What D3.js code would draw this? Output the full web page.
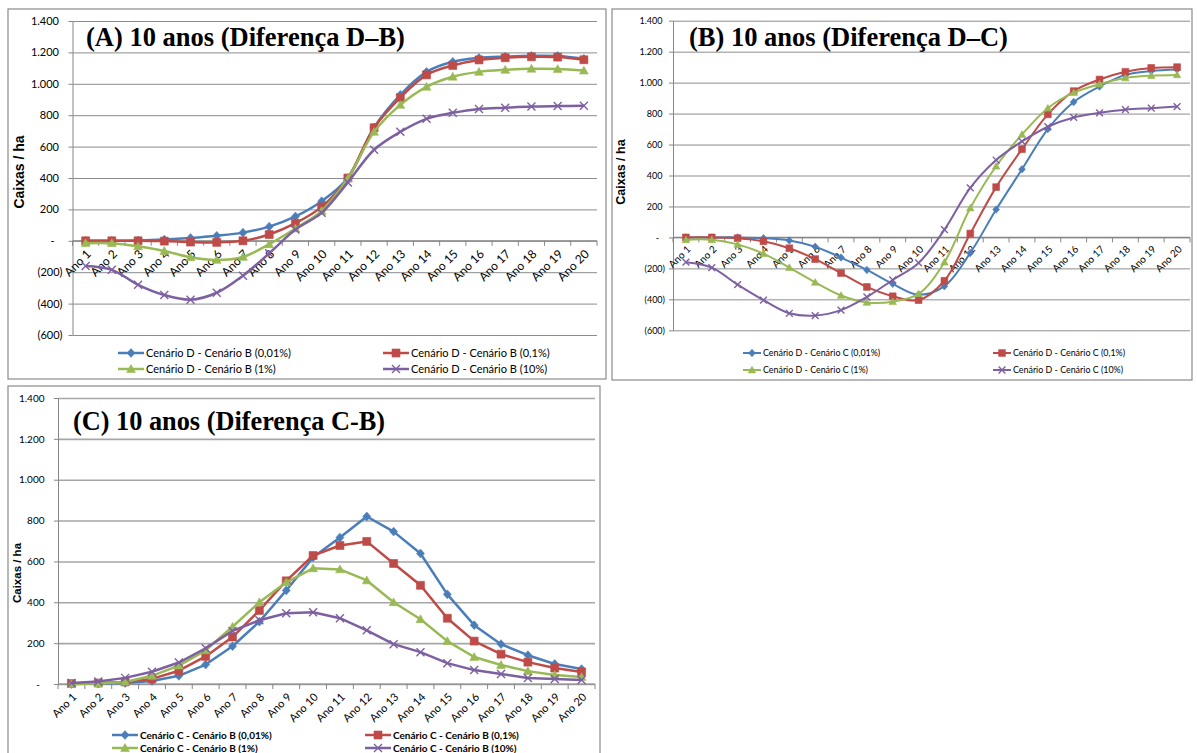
<!DOCTYPE html>
<html lang="pt">

<head>
    <meta charset="UTF-8">
    <title>Caixas / ha - 10 anos (diferenças entre cenários)</title>
    <script src="https://cdnjs.cloudflare.com/ajax/libs/d3/7.8.5/d3.min.js"></script>
    <style>
        body {
            margin: 0;
            background: #fff;
        }
    </style>
</head>

<body>
    <svg id="chart" width="1197" height="753"></svg>
</body>
<script>
    const categories = ["Ano 1", "Ano 2", "Ano 3", "Ano 4", "Ano 5", "Ano 6", "Ano 7", "Ano 8", "Ano 9", "Ano 10",
        "Ano 11", "Ano 12", "Ano 13", "Ano 14", "Ano 15", "Ano 16", "Ano 17", "Ano 18", "Ano 19", "Ano 20"];

    // (A) Diferença D-B
    const dbP001 = [0, 0, 2, 8, 18, 32, 52, 90, 155, 252, 400, 722, 930, 1076, 1140, 1165, 1173, 1178, 1177, 1159];
    const dbP01 = [0, 0, 0, -2, -8, -10, 0, 40, 112, 216, 400, 720, 912, 1057, 1117, 1152, 1166, 1172, 1170, 1153];
    const dbP1 = [-15, -15, -35, -65, -105, -122, -103, -22, 78, 190, 398, 694, 866, 981, 1045, 1076, 1089, 1096, 1094, 1084];
    const dbP10 = [-160, -185, -280, -345, -375, -331, -222, -80, 72, 178, 372, 580, 694, 777, 815, 840, 848, 855, 858, 860];

    // (B) Diferença D-C
    const dcP001 = [0, 0, 0, -5, -20, -60, -130, -210, -300, -370, -315, -100, 180, 440, 700, 875, 975, 1050, 1075, 1085];
    const dcP01 = [0, 0, -5, -25, -70, -140, -230, -320, -380, -405, -280, 25, 325, 570, 795, 945, 1020, 1070, 1095, 1100];
    const dcP1 = [-15, -15, -45, -105, -195, -290, -375, -420, -415, -365, -160, 190, 460, 665, 835, 935, 990, 1030, 1045, 1050];
    const dcP10 = [-160, -195, -305, -405, -490, -505, -470, -385, -275, -165, 50, 320, 500, 620, 715, 775, 805, 825, 835, 845];

    // (C) Diferença C-B
    const cbP001 = [0, 2, 5, 15, 40, 95, 185, 305, 458, 620, 717, 820, 746, 639, 439, 288, 195, 141, 98, 73];
    const cbP01 = [2, 5, 10, 25, 65, 135, 230, 360, 505, 629, 678, 698, 590, 483, 322, 210, 146, 107, 78, 59];
    const cbP1 = [0, 2, 10, 40, 90, 165, 280, 400, 498, 566, 561, 507, 400, 317, 210, 132, 93, 63, 44, 34];
    const cbP10 = [5, 12, 30, 60, 105, 175, 260, 312, 346, 351, 322, 263, 195, 156, 102, 68, 49, 29, 24, 20];

    const legendA = ["Cenário D - Cenário B (0,01%)", "Cenário D - Cenário B (0,1%)", "Cenário D - Cenário B (1%)", "Cenário D - Cenário B (10%)"];
    const legendB = ["Cenário D - Cenário C (0,01%)", "Cenário D - Cenário C (0,1%)", "Cenário D - Cenário C (1%)", "Cenário D - Cenário C (10%)"];
    const legendC = ["Cenário C - Cenário B (0,01%)", "Cenário C - Cenário B (0,1%)", "Cenário C - Cenário B (1%)", "Cenário C - Cenário B (10%)"];

    const titles = ["(A) 10 anos (Diferença D–B)", "(B) 10 anos (Diferença D–C)", "(C) 10 anos (Diferença C-B)"];
    const yTitle = "Caixas / ha";

    const ticksAB = [-600, -400, -200, 0, 200, 400, 600, 800, 1000, 1200, 1400];
    const tickLabelsAB = ["(600)", "(400)", "(200)", "-", "200", "400", "600", "800", "1.000", "1.200", "1.400"];
    const ticksC = [0, 200, 400, 600, 800, 1000, 1200, 1400];
    const tickLabelsC = ["-", "200", "400", "600", "800", "1.000", "1.200", "1.400"];

    const colors = ["#4a7ebb", "#be4b48", "#98b954", "#7d60a0"];
    const sansFont = "Lato, 'Open Sans', sans-serif";

    const svg = d3.select("#chart");

    // marker shapes: diamond, square, triangle, x
    function markerPath(i, r) {
        if (i === 0) return `M0,${-r * 1.1}L${r},0L0,${r * 1.1}L${-r},0Z`;
        if (i === 1) return `M${-r},${-r}H${r}V${r}H${-r}Z`;
        if (i === 2) return `M0,${-r * 1.1}L${r * 1.1},${r * 0.85}L${-r * 1.1},${r * 0.85}Z`;
        return `M${-r},${-r}L${r},${r}M${-r},${r}L${r},${-r}`;
    }

    function drawMarker(g, i, cx, cy, cfg) {
        const p = g.append("path")
            .attr("d", markerPath(i, cfg.markerR))
            .attr("transform", `translate(${cx},${cy})`);
        if (i === 3) {
            p.attr("fill", "none").attr("stroke", colors[i]).attr("stroke-width", 1.4);
        } else {
            p.attr("fill", colors[i]).attr("stroke", colors[i]).attr("stroke-width", 0.6);
        }
    }

    function drawPanel(cfg) {
        const g = svg.append("g");

        // chart frame
        g.append("rect")
            .attr("x", cfg.box[0]).attr("y", cfg.box[1])
            .attr("width", cfg.box[2]).attr("height", cfg.box[3])
            .attr("fill", "#fff").attr("stroke", "#8a8a8a").attr("stroke-width", 1.2);

        const x = d3.scaleBand().domain(categories).range([cfg.left, cfg.right]);
        const y = d3.scaleLinear().domain(cfg.domain).range([cfg.bottom, cfg.top]);
        const cx = c => x(c) + x.bandwidth() / 2;

        // gridlines
        g.append("g")
            .attr("transform", `translate(${cfg.left},0)`)
            .call(d3.axisLeft(y).tickValues(cfg.ticks).tickSize(-(cfg.right - cfg.left)).tickFormat(""))
            .call(a => a.select(".domain").remove())
            .call(a => a.selectAll("line").attr("stroke", cfg.gridColor).attr("stroke-width", cfg.gridW));

        // y axis
        const yAxis = g.append("g")
            .attr("transform", `translate(${cfg.left},0)`)
            .call(d3.axisLeft(y).tickValues(cfg.ticks).tickSize(4).tickSizeOuter(0)
                .tickFormat((d, i) => cfg.tickLabels[i]));
        yAxis.select(".domain").attr("stroke", "#868686");
        yAxis.selectAll("line").attr("stroke", "#868686");
        yAxis.selectAll("text")
            .attr("font-family", sansFont)
            .attr("font-size", cfg.yFont)
            .attr("fill", "#000")
            .attr("x", d => -cfg.yGap - (d > 0 ? cfg.posShift : d === 0 ? cfg.zeroShift : 0));

        // x axis line at zero, ticks on category boundaries
        const y0 = y(0);
        g.append("line")
            .attr("x1", cfg.left).attr("x2", cfg.right)
            .attr("y1", y0).attr("y2", y0)
            .attr("stroke", "#868686").attr("stroke-width", 1.2);
        g.selectAll(".xtick")
            .data(categories.map(c => x(c)).concat([cfg.right]))
            .enter().append("line")
            .attr("x1", d => d).attr("x2", d => d)
            .attr("y1", y0).attr("y2", y0 + 5)
            .attr("stroke", "#868686");
        g.selectAll(".xlabel")
            .data(categories)
            .enter().append("text")
            .attr("transform", c => `translate(${cx(c) + cfg.xLabDx},${y0 + cfg.xLabDy}) rotate(-45)`)
            .attr("text-anchor", "end")
            .attr("dy", "0.35em")
            .attr("font-family", sansFont)
            .attr("font-size", cfg.xFont)
            .attr("fill", "#000")
            .text(c => c);

        // series
        const line = d3.line()
            .x((d, i) => cx(categories[i]))
            .y(d => y(d))
            .curve(cfg.curve);

        cfg.series.forEach((s, si) => {
            g.append("path")
                .attr("d", line(s))
                .attr("fill", "none")
                .attr("stroke", colors[si])
                .attr("stroke-width", cfg.lineW)
                .attr("stroke-linejoin", "round");
            s.forEach((v, i) => drawMarker(g, si, cx(categories[i]), y(v), cfg));
        });

        // title
        g.append("text")
            .attr("x", cfg.titleX).attr("y", cfg.titleY)
            .attr("font-family", "'Liberation Serif', 'Times New Roman', serif")
            .attr("font-weight", "bold")
            .attr("font-size", cfg.titleSize)
            .attr("fill", "#000")
            .text(cfg.title);

        // y axis title
        g.append("text")
            .attr("transform", `translate(${cfg.yTitleX},${cfg.yTitleY}) rotate(-90)`)
            .attr("text-anchor", "middle")
            .attr("dy", "0.35em")
            .attr("font-family", "'Liberation Sans', Arial, sans-serif")
            .attr("font-weight", "bold")
            .attr("font-size", cfg.yTitleSize)
            .attr("fill", "#000")
            .text(yTitle);

        // legend (2 x 2)
        cfg.names.forEach((name, i) => {
            const lx = cfg.legendX[i % 2];
            const ly = cfg.legendY[Math.floor(i / 2)];
            g.append("line")
                .attr("x1", lx).attr("x2", lx + cfg.legendLine)
                .attr("y1", ly).attr("y2", ly)
                .attr("stroke", colors[i]).attr("stroke-width", cfg.lineW);
            drawMarker(g, i, lx + cfg.legendLine / 2, ly, cfg);
            g.append("text")
                .attr("x", lx + cfg.legendLine + 2).attr("y", ly)
                .attr("dy", "0.35em")
                .attr("font-family", sansFont)
                .attr("font-weight", cfg.legendBold ? "bold" : "normal")
                .attr("font-size", cfg.legendFont)
                .attr("fill", "#000")
                .text(name);
        });
    }

    const smooth = d3.curveCatmullRom.alpha(0.5);

    drawPanel({
        box: [8, 9, 598, 370], left: 72.5, right: 597, top: 21, bottom: 335, domain: [-600, 1400],
        ticks: ticksAB, tickLabels: tickLabelsAB, yFont: 11, yGap: 10, posShift: 3.5, zeroShift: 8,
        xFont: 12, xLabDx: 3, xLabDy: 11, gridColor: "#8c8c8c", gridW: 1,
        lineW: 2.5, markerR: 4, curve: smooth,
        series: [dbP001, dbP01, dbP1, dbP10], names: legendA,
        title: titles[0], titleX: 86, titleY: 46, titleSize: 26.5,
        yTitleX: 19, yTitleY: 172, yTitleSize: 14,
        legendX: [118, 383], legendY: [353, 369], legendLine: 26, legendFont: 11, legendBold: false
    });

    drawPanel({
        box: [612, 9, 580, 371], left: 673, right: 1190, top: 20.7, bottom: 330.3, domain: [-600, 1400],
        ticks: ticksAB, tickLabels: tickLabelsAB, yFont: 9, yGap: 8, posShift: 2.5, zeroShift: 6,
        xFont: 10, xLabDx: 3, xLabDy: 10, gridColor: "#8c8c8c", gridW: 1,
        lineW: 2, markerR: 3.4, curve: smooth,
        series: [dcP001, dcP01, dcP1, dcP10], names: legendB,
        title: titles[1], titleX: 689, titleY: 46, titleSize: 26.5,
        yTitleX: 621, yTitleY: 172, yTitleSize: 12.5,
        legendX: [743, 993], legendY: [353, 370], legendLine: 18, legendFont: 8.9, legendBold: false
    });

    drawPanel({
        box: [8, 386, 592, 380], left: 58, right: 595, top: 398, bottom: 684, domain: [0, 1400],
        ticks: ticksC, tickLabels: tickLabelsC, yFont: 10, yGap: 10, posShift: 3.5, zeroShift: 8,
        xFont: 11, xLabDx: 3, xLabDy: 11, gridColor: "#a6a6a6", gridW: 1.6,
        lineW: 2.5, markerR: 4, curve: d3.curveLinear,
        series: [cbP001, cbP01, cbP1, cbP10], names: legendC,
        title: titles[2], titleX: 73, titleY: 430, titleSize: 26.3,
        yTitleX: 17, yTitleY: 573, yTitleSize: 11.5,
        legendX: [112, 365], legendY: [735, 748], legendLine: 26, legendFont: 10, legendBold: true
    });
</script>

</html>
